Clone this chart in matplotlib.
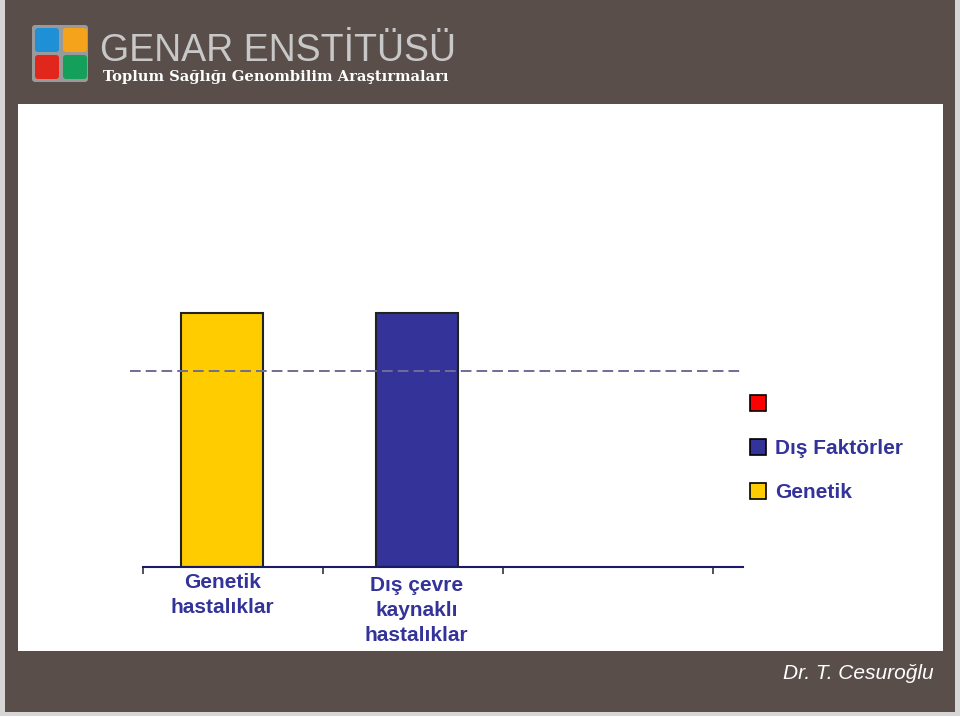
import numpy as np
import matplotlib
matplotlib.use("Agg")
import matplotlib.pyplot as plt
from matplotlib.patches import Rectangle, FancyBboxPatch, Patch
from matplotlib.transforms import blended_transform_factory

W, H = 960, 716

# data
categories = ["Genetik\nhastalıklar", "Dış çevre\nkaynaklı\nhastalıklar", ""]
genetik = [100, 0, 0]
dis_faktorler = [0, 100, 0]
diger = [0, 0, 0]
esik = 77
legend_labels = ["", "Dış Faktörler", "Genetik"]

c_yellow = "#FFCC00"
c_blue = "#333399"
c_red = "#FF0000"
c_frame = "#594e4a"
c_text = "#333399"

def rect(x0, y0, x1, y1):
    return [x0 / W, 1 - y1 / H, (x1 - x0) / W, (y1 - y0) / H]

fig = plt.figure(figsize=(W / 100, H / 100), dpi=100, facecolor="#d6d6d6")

# background / frame in pixel coords
bg = fig.add_axes([0, 0, 1, 1], zorder=0)
bg.set_xlim(0, W)
bg.set_ylim(H, 0)
bg.axis("off")
bg.add_patch(Rectangle((5, 0), 950, 712, color=c_frame, lw=0))
bg.add_patch(Rectangle((18, 104), 925, 547, color="white", lw=0))

# logo
bg.add_patch(FancyBboxPatch((32, 25), 56, 57, boxstyle="round,pad=0,rounding_size=3",
                            fc="#9a9a9a", ec="none"))
for (x, y), col in zip([(35, 28), (63, 28), (35, 55), (63, 55)],
                       ["#1f8fd6", "#f5a31a", "#e1261c", "#14a05a"]):
    bg.add_patch(FancyBboxPatch((x, y), 24, 24, boxstyle="round,pad=0,rounding_size=3",
                                fc=col, ec="none"))
bg.text(100, 61, "GENAR ENSTİTÜSÜ", fontsize=27, color="#c8c8c8",
        family="Liberation Sans", va="baseline", ha="left")
bg.text(103, 81, "Toplum Sağlığı Genombilim Araştırmaları", fontsize=10.6,
        color="white", family="DejaVu Serif", weight="bold", va="baseline", ha="left")
bg.text(783, 679, "Dr. T. Cesuroğlu", fontsize=15, color="white",
        family="Liberation Sans", style="italic", va="baseline", ha="left")

# chart
ax = fig.add_axes(rect(143, 262, 743, 567), zorder=2)
ax.patch.set_alpha(0)
ax.set_xlim(-0.5, -0.5 + 600 / 180)
ax.set_ylim(0, 120)

x = np.arange(len(categories))
w = 0.456
for vals, off, col in [(genetik, -0.06, c_yellow), (dis_faktorler, 0.02, c_blue)]:
    for xi, v in zip(x, vals):
        if v > 0:
            ax.bar(xi + off, v, width=w, color=col, edgecolor="#222222", linewidth=1.5, zorder=2)

ax.plot([-0.572, 2.828], [esik, esik], color="#6e6e96", lw=1.4,
        linestyle=(0, (5.5, 2.6)), clip_on=False, zorder=3)

for s in ["top", "right", "left"]:
    ax.spines[s].set_visible(False)
ax.spines["bottom"].set_color("#1a1a66")
ax.spines["bottom"].set_linewidth(1.5)
ax.set_yticks([])
ax.set_xticks([-0.5, 0.5, 1.5, 2.667])
ax.set_xticklabels([])
ax.tick_params(axis="x", direction="out", length=5, width=1.2, color="#333333")

trans = blended_transform_factory(ax.transData, ax.transAxes)
label_x = [-0.06, 1.02, 2.0]
label_dy = [-4, -6.5, -1]
for lx, dy, lab in zip(label_x, label_dy, categories):
    ax.annotate(lab, (lx, 0), xycoords=trans, xytext=(0, dy), textcoords="offset points",
                ha="center", va="top", fontsize=15, weight="bold", color=c_text,
                family="Liberation Sans", linespacing=1.4)

handles = [Patch(fc=c, ec="black", lw=1.2) for c in [c_red, c_blue, c_yellow]]
leg = fig.legend(handles, legend_labels, loc="upper left",
                 bbox_to_anchor=(750 / W, 1 - 395 / H), bbox_transform=fig.transFigure,
                 frameon=False, borderpad=0, borderaxespad=0, handlelength=0.77,
                 handleheight=0.77, handletextpad=0.45, labelspacing=1.2,
                 prop={"family": "Liberation Sans", "weight": "bold", "size": 15})
for t in leg.get_texts():
    t.set_color(c_text)

fig.savefig("out.png", dpi=100, facecolor=fig.get_facecolor())
